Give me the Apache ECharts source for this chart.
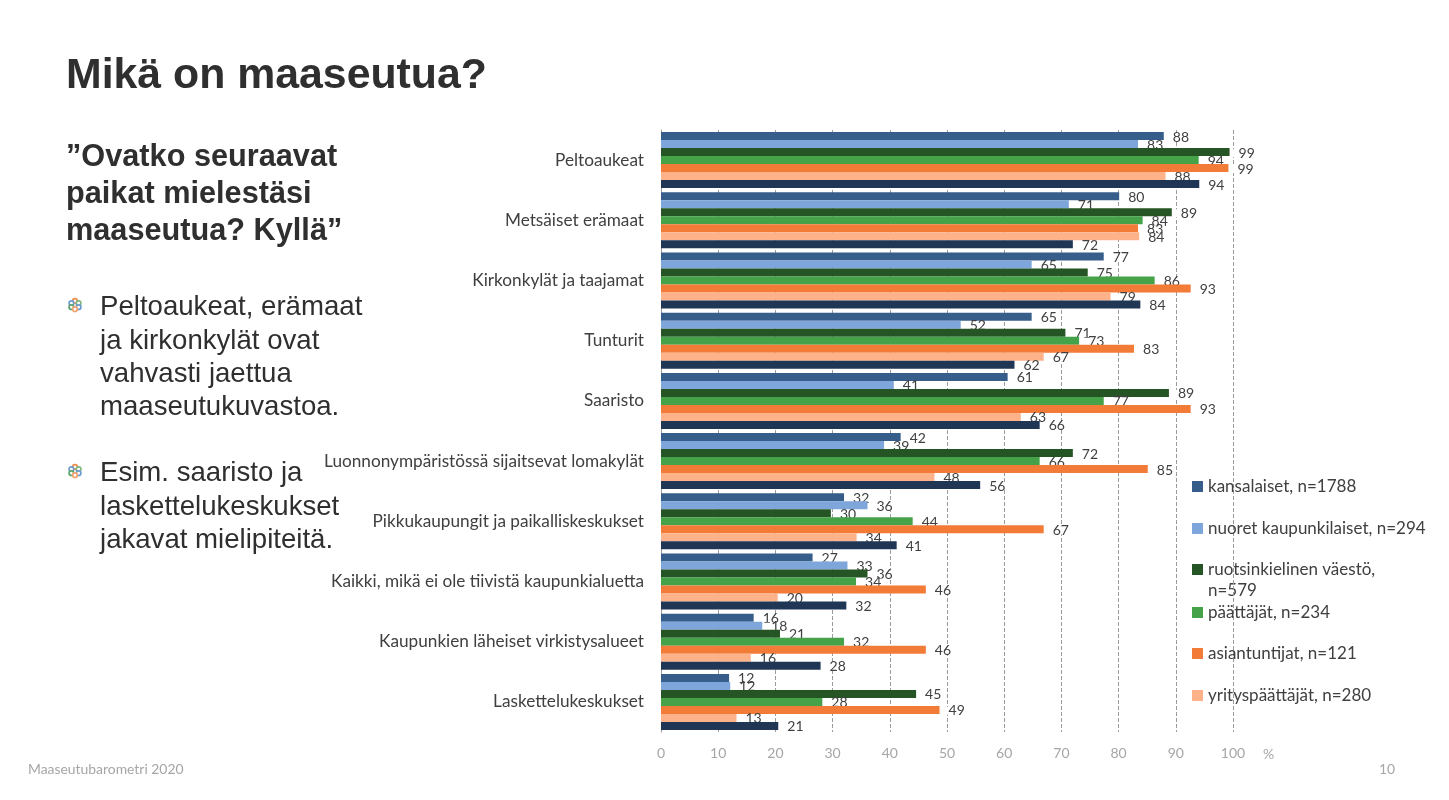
<!DOCTYPE html>
<html><head><meta charset="utf-8">
<style>html,body{margin:0;padding:0;background:#fff}#c{width:1449px;height:800px}</style>
<script src="https://cdn.jsdelivr.net/npm/echarts@6/dist/echarts.min.js"></script>
</head><body><div id="c"></div>
<script>
const categories = ['Peltoaukeat','Metsäiset erämaat','Kirkonkylät ja taajamat','Tunturit','Saaristo','Luonnonympäristössä sijaitsevat lomakylät','Pikkukaupungit ja paikalliskeskukset','Kaikki, mikä ei ole tiivistä kaupunkialuetta','Kaupunkien läheiset virkistysalueet','Laskettelukeskukset'];
const kansalaiset = [87.9,80.1,77.4,64.8,60.6,41.9,32.0,26.5,16.2,11.9];
const nuoret = [83.4,71.3,64.8,52.4,40.7,39.0,36.1,32.6,17.7,12.1];
const ruotsinkieliset = [99.4,89.3,74.6,70.7,88.8,72.0,29.7,36.1,20.8,44.6];
const paattajat = [94.0,84.2,86.3,73.1,77.4,66.2,44.0,34.1,32.0,28.2];
const asiantuntijat = [99.2,83.4,92.6,82.7,92.6,85.1,66.9,46.3,46.3,48.7];
const yrityspaattajat = [88.2,83.6,78.6,66.9,62.9,47.8,34.2,20.4,15.7,13.2];
const seitsemas = [94.1,72.0,83.8,61.8,66.2,55.8,41.2,32.4,27.9,20.5];
const seriesNames = ['kansalaiset, n=1788','nuoret kaupunkilaiset, n=294','ruotsinkielinen väestö, n=579','päättäjät, n=234','asiantuntijat, n=121','yrityspäättäjät, n=280','kaikki'];
const seriesData = [kansalaiset,nuoret,ruotsinkieliset,paattajat,asiantuntijat,yrityspaattajat,seitsemas];
const colors = ['#375d8b','#7ea6da','#255425','#45a248','#f27b38','#fdb28a','#1f3655'];
const legendTops = [478,520,561,604,645,687];

const cal = 'Lato, sans-serif';
const ar = '"Liberation Sans", Arial, sans-serif';
const dark = '#2f2f2f';

function txt(x,y,text,size,weight,fill,font,lh){
  return {type:'text',x,y,style:{text,font:(weight||'normal')+' '+size+'px '+(font||ar),fill:fill||dark,lineHeight:lh,textVerticalAlign:'top'},silent:true};
}
function bullet(cx,cy){
  const ring=(dx,dy,c)=>({type:'circle',shape:{cx:cx+dx,cy:cy+dy,r:2.3},style:{fill:'#fff',stroke:c,lineWidth:1.7},silent:true});
  return [ring(0,-4,'#f08a4b'),ring(-3.6,-1.8,'#6c9bd2'),ring(3.6,-1.8,'#7fb77e'),ring(-3.6,2.2,'#5aa469'),ring(3.6,2.2,'#6c9bd2'),ring(0,4.2,'#f2a36f')];
}

const chart = echarts.init(document.getElementById('c'),null,{renderer:'canvas'});
chart.setOption({
  animation:false,
  backgroundColor:'#fff',
  grid:{left:661,top:130,width:572,height:602,containLabel:false},
  xAxis:{type:'value',min:0,max:100,interval:10,
    axisLine:{show:false},axisTick:{show:false},
    axisLabel:{color:'#a6a6a6',fontFamily:cal,fontSize:14,margin:14},
    splitLine:{show:true,lineStyle:{color:'#9a9a9a',type:'dashed',width:1}}},
  yAxis:{type:'category',inverse:true,data:categories,
    axisLine:{show:true,lineStyle:{color:'#9a9a9a'}},axisTick:{show:false},
    axisLabel:{color:'#404040',fontFamily:cal,fontSize:17.2,margin:17,lineHeight:20,padding:[2,0,0,0]}},
  legend:seriesNames.slice(0,6).map((n,i)=>({
    data:[n],left:1192,top:legendTops[i],orient:'vertical',selectedMode:false,
    itemWidth:11,itemHeight:11,itemGap:0,padding:0,
    icon:'rect',
    formatter:(name)=>name.indexOf('väestö')>=0?'ruotsinkielinen väestö,':name,
    textStyle:{color:'#404040',fontFamily:cal,fontSize:17,padding:[0,0,0,0]}
  })),
  series:seriesNames.map((n,i)=>({
    name:n,type:'bar',data:seriesData[i],barWidth:8,barGap:'0%',z:2+i,
    itemStyle:{color:colors[i]},
    label:{show:true,position:'right',distance:3,color:'#404040',fontFamily:cal,fontSize:14,
      formatter:(p)=>String(Math.round(p.value)),
      backgroundColor:'#fff',padding:[0,1,0,6],lineHeight:8,offset:[0,1]}
  })),
  graphic:[
    txt(66,55,'Mikä on maaseutua?',42.8,'bold'),
    txt(66,139,'”Ovatko seuraavat\npaikat mielestäsi\nmaaseutua? Kyllä”',30.7,'bold',dark,ar,37),
    txt(100,291,'Peltoaukeat, erämaat\nja kirkonkylät ovat\nvahvasti jaettua\nmaaseutukuvastoa.',27.6,'normal',dark,ar,33.3),
    txt(100,457,'Esim. saaristo ja\nlaskettelukeskukset\njakavat mielipiteitä.',27.6,'normal',dark,ar,33.3),
    ...bullet(75,305),...bullet(75,471),
    txt(1208,582,'n=579',17,'normal','#404040',cal),
    txt(1263,747,'%',14,'normal','#a6a6a6',cal),
    txt(28,763,'Maaseutubarometri 2020',13.9,'normal','#a6a6a6',cal),
    txt(1379,763,'10',13.9,'normal','#a6a6a6',cal)
  ]
});
</script></body></html>
